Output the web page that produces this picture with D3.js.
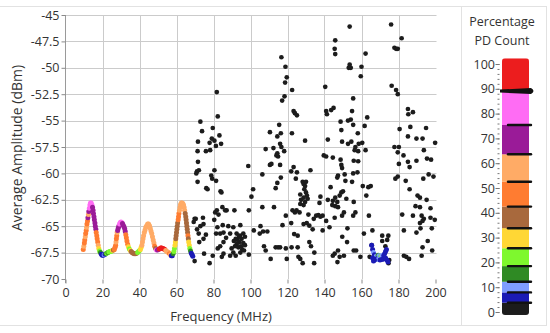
<!DOCTYPE html>
<html><head><meta charset="utf-8">
<script src="https://cdn.jsdelivr.net/npm/d3@7"></script>
<style>html,body{margin:0;padding:0;background:#fff;}svg{display:block;font-family:"Open Sans","Noto Sans",sans-serif;}</style>
</head><body>
<svg id="c" width="550" height="333"></svg>
<script>
// ---- data ----
const xTicks = [0,20,40,60,80,100,120,140,160,180,200];
const yTicks = [-70,-67.5,-65,-62.5,-60,-57.5,-55,-52.5,-50,-47.5,-45];
const cbTicks = [0,10,20,30,40,50,60,70,80,90,100];
const cbBreaks = [3.75,7.9,12.2,18.5,25.7,33.8,42.5,52.5,63.6,75.4,89.1];
const cbColors = ["#1c1c1c","#1b1bb5","#7f9dff","#2f8a24","#7ef82e","#ffd735","#a8693d","#ff7c31","#ffab66","#9a1b98","#ff6cf4","#ec1d1e"];

// colored PD points: [frequency MHz, amplitude dBm, percentage]
const peakPoints = [
[9.6,-67.2,48],[9.9,-66.9,58],[10.2,-66.6,48],[10.4,-66.3,48],[10.7,-66.0,58],[10.9,-65.7,48],[11.2,-65.4,48],[11.4,-65.1,58],[11.6,-64.8,48],[11.9,-64.5,48],[12.1,-64.2,70],[12.4,-63.9,58],[12.6,-63.6,70],[12.9,-63.3,82],[13.2,-63.0,82],[13.5,-62.8,82],[13.9,-62.8,82],[14.3,-63.0,82],
[14.6,-63.2,70],[14.9,-63.5,70],[15.1,-63.8,70],[15.4,-64.1,70],[15.6,-64.4,70],[15.9,-64.7,70],[16.1,-65.0,70],[16.4,-65.3,70],[16.6,-65.6,48],[16.9,-65.9,48],[17.1,-66.2,48],[17.4,-66.5,48],[17.7,-66.8,58],[18.0,-67.1,30],[18.4,-67.35,22],[18.9,-67.5,15],[19.4,-67.65,6],[19.9,-67.75,6],[20.4,-67.75,6],[20.9,-67.7,10],[21.4,-67.65,6],[21.9,-67.6,15],[22.4,-67.55,22],[22.9,-67.5,15],[23.4,-67.45,22],[23.9,-67.4,22],[24.4,-67.4,22],[24.9,-67.35,22],[25.4,-67.3,30],[25.9,-67.25,38],[26.4,-67.2,48],
[26.8,-67.0,48],[27.1,-66.8,48],[27.3,-66.5,58],[27.5,-66.2,48],[27.7,-65.9,48],[27.9,-65.6,58],[28.2,-65.4,70],[28.5,-65.2,70],[28.8,-65.0,70],[29.2,-64.8,82],[29.6,-64.65,82],[30.0,-64.6,82],[30.4,-64.65,82],[30.8,-64.75,70],[31.2,-64.9,70],[31.6,-65.05,70],[32.0,-65.25,70],[32.3,-65.5,70],[32.6,-65.8,48],[32.9,-66.1,48],[33.2,-66.4,48],[33.6,-66.7,48],[34.0,-66.95,30],[34.5,-67.15,22],[35.0,-67.3,30],[35.5,-67.4,38],[36.0,-67.5,38],[36.5,-67.55,38],[37.0,-67.6,38],[37.5,-67.6,38],[38.0,-67.6,38],[38.5,-67.55,38],[39.0,-67.5,22],[39.5,-67.4,22],[40.0,-67.3,22],[40.5,-67.2,30],[40.9,-67.0,30],
[41.3,-66.8,58],[41.6,-66.5,58],[41.9,-66.2,58],[42.2,-65.9,58],[42.6,-65.6,58],[43.0,-65.35,58],[43.4,-65.1,58],[43.9,-64.95,58],[44.4,-64.8,58],[44.9,-64.8,58],[45.4,-64.95,58],[45.8,-65.2,58],[46.2,-65.45,58],[46.6,-65.7,58],[47.0,-66.0,58],[47.4,-66.3,58],[47.8,-66.6,58],[48.2,-66.9,48],[48.7,-67.1,38],[49.2,-67.25,82],[49.7,-67.25,70],[50.2,-67.2,70],[50.7,-67.15,95],[51.2,-67.1,95],[51.7,-67.05,95],[52.2,-67.1,95],[52.7,-67.1,95],[53.2,-67.15,95],[53.7,-67.2,95],[54.2,-67.3,58],[54.7,-67.4,58],[55.2,-67.45,58],[55.7,-67.5,58],[56.2,-67.6,48],[56.7,-67.7,58],[57.2,-67.8,6],[57.7,-67.8,6],[58.2,-67.6,15],[58.6,-67.4,22],[58.9,-67.1,22],[59.2,-66.8,30],[59.4,-66.5,30],[59.6,-66.2,38],[59.8,-65.9,38],[60.0,-65.6,38],[60.2,-65.3,38],[60.4,-65.0,38],[60.6,-64.7,38],[60.9,-64.4,48],[61.1,-64.1,48],[61.3,-63.8,48],[61.6,-63.5,58],[61.9,-63.2,58],[62.2,-62.95,58],[62.6,-62.8,58],[63.0,-62.8,58],[63.4,-62.85,58],[63.8,-63.0,58],[64.1,-63.2,58],[64.4,-63.5,58],[64.7,-63.8,38],[65.0,-64.1,38],[65.2,-64.4,38],[65.4,-64.7,38],[65.6,-65.0,38],[65.8,-65.3,38],[66.0,-65.6,38],[66.2,-65.9,48],[66.4,-66.2,38],[66.6,-66.5,30],[66.9,-66.8,30],[67.2,-67.1,22],[67.6,-67.35,15],[68.0,-67.55,6],[68.4,-67.7,6],[68.8,-67.85,6],
[165.5,-66.8,6],[166,-67.2,6],[166.5,-67.5,10],[167,-67.7,6],[167.5,-67.9,6],[168,-67.85,10],[168.5,-67.8,10],[169,-67.75,15],[169.5,-67.8,10],[170,-67.85,10],[170.5,-67.85,22],[171,-67.8,10],[171.5,-67.75,10],[172,-67.8,6],[172.5,-67.6,6],[173,-67.4,6],[173.5,-67.2,6],[168,-68.1,6],[169,-68.15,10],[170,-68.2,6],[171,-68.15,6],[172,-68.1,6],[167,-68.2,6],[173,-68.0,6],[173.8,-68.2,6],[174.3,-68.4,6],[166.5,-68.3,6],[166,-68.0,6]
];

// low-percentage (black) PD points: [frequency MHz, amplitude dBm]
const scatterPoints = [
[81.8,-52.3],[82.3,-54.6],[72.9,-55.1],[73.8,-56.0],[79.6,-55.7],[83.2,-56.4],[71.6,-57.0],[79.1,-56.7],[77.9,-57.1],[80.5,-56.9],[78.2,-57.8],[75.9,-57.9],[84.1,-57.2],[81.3,-57.4],[71.4,-57.9],[71.6,-58.9],[98.8,-59.3],[71.1,-59.8],[72.1,-59.7],[70.7,-60.0],[80.5,-59.7],[78.8,-60.2],[79.3,-60.5],[71.4,-60.8],[81.4,-60.7],[106.4,-60.1],[76.1,-61.4],[76.8,-61.5],[83.8,-61.7],[84.3,-61.8],[101.4,-61.5],[100.5,-62.2],[84.8,-63.2],[81.8,-63.5],[80.9,-63.7],[87.1,-63.5],[86.3,-63.5],[91.3,-63.5],[99.1,-63.5],[106.4,-63.2],[82.7,-63.9],[69.8,-64.3],[69.3,-64.6],[70.4,-64.3],[74.3,-64.2],[80.4,-64.4],[74.6,-64.8],[85.0,-64.9],[94.5,-64.9],[101.8,-65.4],[72.9,-65.0],[82.1,-65.1],[88.0,-65.0],[90.7,-65.1],[71.1,-65.3],[105.4,-65.0],[106.8,-65.5],[85.4,-65.6],[83.6,-65.7],[81.4,-65.7],[75.9,-65.8],[72.0,-65.7],[89.0,-65.7],[92.5,-65.7],[94.3,-65.9],[96.1,-65.7],[97.0,-66.0],[95.2,-66.2],[94.0,-66.5],[92.5,-66.7],[96.1,-66.6],[91.6,-66.9],[93.4,-67.0],[94.8,-66.9],[97.0,-66.8],[89.8,-67.1],[86.8,-66.1],[85.4,-66.5],[74.6,-66.2],[72.3,-66.5],[83.6,-66.9],[82.3,-67.1],[90.7,-67.5],[92.0,-67.8],[89.0,-67.8],[99.1,-67.7],[85.4,-67.6],[84.5,-67.9],[74.9,-67.6],[79.6,-67.8],[69.8,-68.3],[77.9,-68.5],[108.2,-67.3],[105.0,-65.7],
[93.0,-66.3],[95.5,-67.2],[92.0,-66.2],[96.5,-67.3],[94.5,-67.5],[91.0,-66.4],[93.8,-66.0],
[153.6,-46.1],[145.8,-47.4],[145.5,-48.2],[145.8,-48.7],[116.7,-49.0],[118.9,-49.9],[153.6,-49.7],[154.2,-50.0],[153.1,-50.0],[119.6,-50.9],[118.7,-51.4],[122.5,-52.1],[140.4,-51.8],[118.4,-52.7],[117.1,-53.1],[155.5,-52.9],[123.3,-54.1],[124.0,-54.3],[125.1,-54.5],[140.9,-54.1],[141.3,-54.4],[143.6,-54.0],[144.9,-53.8],[154.9,-54.1],[154.2,-54.9],[152.7,-55.0],[148.7,-55.1],[155.5,-55.4],[115.5,-55.4],[110.5,-56.1],[116.4,-56.2],[114.5,-56.5],[122.4,-56.2],[149.1,-55.9],[141.8,-56.8],[129.5,-56.9],[149.5,-57.0],[152.7,-57.2],[154.5,-57.0],[116.0,-57.2],[116.7,-57.5],[112.4,-57.6],[108.2,-57.7],[118.2,-57.9],[114.5,-58.1],[114.0,-58.3],[114.9,-58.4],[110.5,-59.2],[111.3,-59.1],[116.0,-59.2],[139.6,-58.3],[140.9,-58.4],[144.5,-58.5],[148.7,-58.7],[149.1,-59.2],[149.5,-59.5],[123.3,-59.4],[125.1,-59.9],[122.0,-59.8],[132.4,-59.7],[116.4,-60.4],[114.5,-60.9],[113.6,-61.4],[124.5,-60.5],[147.3,-60.2],[146.9,-60.4],[150.9,-60.1],[151.3,-60.7],[154.9,-60.8],[155.5,-60.0],[143.3,-61.3],[128.2,-60.8],[128.7,-61.0],[130.0,-60.8],[129.5,-61.2],[129.1,-61.5],[130.0,-61.8],[130.5,-62.1],[128.7,-62.3],[130.9,-62.4],[126.9,-62.0],[127.3,-62.5],[129.5,-62.7],[137.8,-62.2],[141.8,-62.5],[144.5,-62.6],[145.8,-62.3],[146.9,-62.7],[148.2,-62.1],[149.1,-61.8],[150.0,-61.7],[147.3,-63.2],[145.8,-63.1],[144.2,-63.0],[151.8,-62.4],[137.3,-62.8],[128.7,-63.0],[112.7,-63.2],[122.7,-63.5],[124.0,-63.7],[124.9,-63.5],[126.5,-63.7],[126.9,-62.9],[131.3,-63.9],[119.1,-64.0],[135.5,-64.0],[134.2,-64.3],[136.7,-63.95],[137.8,-64.1],[139.0,-64.0],[140.9,-64.5],[145.5,-64.2],[149.5,-64.0],[150.5,-63.7],[155.5,-64.0],[122.0,-64.7],[117.3,-64.9],[128.7,-64.8],[130.4,-64.7],[131.8,-64.95],[133.6,-65.3],[142.7,-65.1],[139.0,-65.4],[152.4,-65.2],[109.1,-65.5],[123.6,-65.75],[125.5,-65.9],[149.6,-66.0],[131.8,-66.5],[132.7,-66.9],[152.2,-66.5],[113.6,-67.0],[114.9,-67.0],[116.0,-67.0],[119.1,-67.1],[122.2,-67.0],[125.5,-67.0],[134.5,-67.5],[145.5,-67.6],[144.5,-67.8],[147.3,-67.3],[148.2,-67.9],[150.5,-67.8],[147.0,-68.4],[125.9,-67.9],[126.9,-68.1],[128.2,-68.5],[119.6,-68.1],[110.9,-68.1],[134.4,-68.5],[107.3,-66.9],
[176.0,-45.9],[181.7,-47.2],[177.8,-48.1],[178.7,-48.2],[179.6,-48.2],[162.2,-48.65],[160.0,-49.9],[159.6,-50.8],[176.3,-51.7],[178.7,-52.1],[179.6,-52.5],[185.1,-53.9],[187.8,-54.2],[185.3,-54.4],[163.1,-54.7],[161.7,-55.5],[180.6,-55.8],[186.4,-55.6],[194.9,-55.7],[158.0,-56.2],[185.1,-56.5],[189.7,-56.7],[193.0,-56.7],[199.8,-57.1],[160.4,-57.1],[158.5,-57.2],[156.7,-57.5],[156.3,-57.8],[158.2,-57.9],[162.2,-57.8],[177.8,-57.5],[180.2,-57.5],[179.6,-58.0],[193.7,-57.8],[182.7,-58.3],[185.1,-58.9],[186.0,-59.4],[189.7,-58.8],[195.4,-58.6],[197.6,-58.7],[155.8,-58.8],[158.2,-58.85],[180.2,-59.1],[157.8,-59.9],[178.3,-60.5],[179.6,-60.3],[183.9,-60.7],[193.4,-60.5],[196.3,-60.1],[198.9,-60.3],[160.7,-61.2],[163.7,-61.3],[165.0,-61.2],[186.0,-61.5],[162.6,-62.1],[190.3,-62.1],[191.6,-62.3],[195.2,-62.5],[155.8,-62.7],[189.2,-63.1],[191.6,-63.2],[197.3,-63.3],[156.7,-63.7],[182.0,-63.9],[187.8,-64.0],[192.5,-64.0],[193.7,-64.3],[193.0,-64.5],[191.6,-64.7],[197.3,-64.2],[199.6,-64.4],[164.0,-64.0],[198.0,-65.2],[191.9,-65.2],[182.9,-65.4],[165.9,-65.4],[189.7,-65.6],[161.3,-65.7],[171.2,-65.9],[174.5,-65.9],[173.9,-66.3],[171.2,-66.4],[195.8,-66.4],[193.0,-67.0],[172.9,-66.9],[165.5,-66.8],[155.8,-67.3],[157.1,-67.3],[159.4,-67.9],[182.9,-67.8],[184.2,-67.9],[185.7,-68.1],[192.5,-67.8],[198.2,-67.3],[164.4,-67.9],[175.0,-68.2],[174.6,-68.5]
];

// ---- drawing ----
const svg = d3.select("#c");
const x = d3.scaleLinear().domain([0,200]).range([65.5,435.5]);
const y = d3.scaleLinear().domain([-70,-45]).range([279,15]);
const color = d3.scaleThreshold().domain(cbBreaks).range(cbColors);
const txt = "#333";

// panel borders
svg.append("path").attr("d","M0,6.5H461.5V325.5H0").attr("fill","none").attr("stroke","#e2e2e2");
svg.append("rect").attr("x",461.5).attr("y",6.5).attr("width",85).attr("height",319).attr("fill","none").attr("stroke","#e2e2e2");

// grid
const g = svg.append("g");
g.selectAll(".vg").data(xTicks.filter(d=>d>0 && d<200)).enter().append("line")
 .attr("x1",d=>Math.round(x(d))+0.5).attr("x2",d=>Math.round(x(d))+0.5).attr("y1",y(-45)).attr("y2",y(-70))
 .attr("stroke","#cbcbcb").attr("stroke-width",1);
g.selectAll(".hg").data(yTicks.filter(d=>d>-70)).enter().append("line")
 .attr("x1",x(0)).attr("x2",x(200)+1).attr("y1",d=>Math.round(y(d))+0.5).attr("y2",d=>Math.round(y(d))+0.5)
 .attr("stroke","#cbcbcb").attr("stroke-width",1);

// y axis
const ya = d3.axisLeft(y).tickValues(yTicks).tickSize(4).tickPadding(2).tickFormat(d=>String(d));
const yg = svg.append("g").attr("transform","translate(65.5,0)").call(ya);
yg.select(".domain").attr("stroke","#9a9a9a").attr("d","M0,15V283");
yg.selectAll(".tick line").attr("stroke","#8a8a8a");
yg.selectAll("text").attr("fill",txt).style("font-size","12.5px").style("font-family","'Open Sans',sans-serif");

// x axis (ticks only)
const xa = d3.axisBottom(x).tickValues(xTicks).tickSize(4).tickPadding(5).tickFormat(d=>String(d));
const xg = svg.append("g").attr("transform","translate(0,279.5)").call(xa);
xg.select(".domain").remove();
xg.selectAll(".tick line").attr("stroke","#8a8a8a");
xg.selectAll("text").attr("fill",txt).style("font-size","12.5px").style("font-family","'Open Sans',sans-serif");

// axis titles
svg.append("text").attr("x",221).attr("y",321).attr("text-anchor","middle").attr("fill",txt)
 .style("font-size","13px").text("Frequency (MHz)");
svg.append("text").attr("transform","translate(22,148) rotate(-90)").attr("text-anchor","middle").attr("fill",txt)
 .style("font-size","14px").text("Average Amplitude (dBm)");

// points
svg.append("g").selectAll("circle").data(scatterPoints).enter().append("circle")
 .attr("cx",d=>x(d[0])).attr("cy",d=>y(d[1])).attr("r",2.35).attr("fill",color(2));
svg.append("g").selectAll("circle").data(peakPoints).enter().append("circle")
 .attr("cx",d=>x(d[0])).attr("cy",d=>y(d[1])).attr("r",2.5).attr("fill",d=>color(d[2]));

// colour bar
const cb = d3.scaleLinear().domain([0,100]).range([312,64]);
const edges = [-1.2].concat(cbBreaks, [102.3]);
const cbg = svg.append("g");
cbg.append("clipPath").attr("id","cbclip").append("rect").attr("x",502).attr("y",cb(102.3)).attr("width",27).attr("height",cb(-1.2)-cb(102.3)).attr("rx",3);
cbg.append("g").attr("clip-path","url(#cbclip)").selectAll("rect").data(cbColors).enter().append("rect")
 .attr("x",502).attr("width",27).attr("y",(d,i)=>cb(edges[i+1])).attr("height",(d,i)=>cb(edges[i])-cb(edges[i+1])).attr("fill",d=>d);
cbg.selectAll(".bl").data(cbBreaks.slice(0,-1)).enter().append("line")
 .attr("x1",508).attr("x2",531).attr("y1",d=>cb(d)).attr("y2",d=>cb(d))
 .attr("stroke","#111").attr("stroke-width",2.4).attr("stroke-linecap","round");
const topBreak = cbBreaks[cbBreaks.length-1];
const tb = cb(topBreak);
cbg.append("path").attr("d",`M500,${tb-1.5} L531,${tb-3} Q536,${tb} 531,${tb+3} L500,${tb+1.5} Z`).attr("fill","#111");
// colour bar axis
const minor = d3.range(0,101,2);
cbg.selectAll(".mt").data(minor).enter().append("line")
 .attr("x1",497.5).attr("x2",499.5).attr("y1",d=>cb(d)+0.5).attr("y2",d=>cb(d)+0.5).attr("stroke","#777").attr("stroke-width",1);
cbg.selectAll(".Mt").data(cbTicks).enter().append("line")
 .attr("x1",495.5).attr("x2",499.5).attr("y1",d=>cb(d)+0.5).attr("y2",d=>cb(d)+0.5).attr("stroke","#777").attr("stroke-width",1);
cbg.selectAll(".cl").data(cbTicks).enter().append("text")
 .attr("x",495).attr("y",d=>cb(d)+4.5).attr("text-anchor","end").attr("fill",txt).style("font-size","12.5px").text(d=>d);
svg.append("text").attr("x",502).attr("y",26).attr("text-anchor","middle").attr("fill",txt).style("font-size","12.5px").text("Percentage");
svg.append("text").attr("x",502).attr("y",45).attr("text-anchor","middle").attr("fill",txt).style("font-size","12.5px").text("PD Count");
</script>
</body></html>
